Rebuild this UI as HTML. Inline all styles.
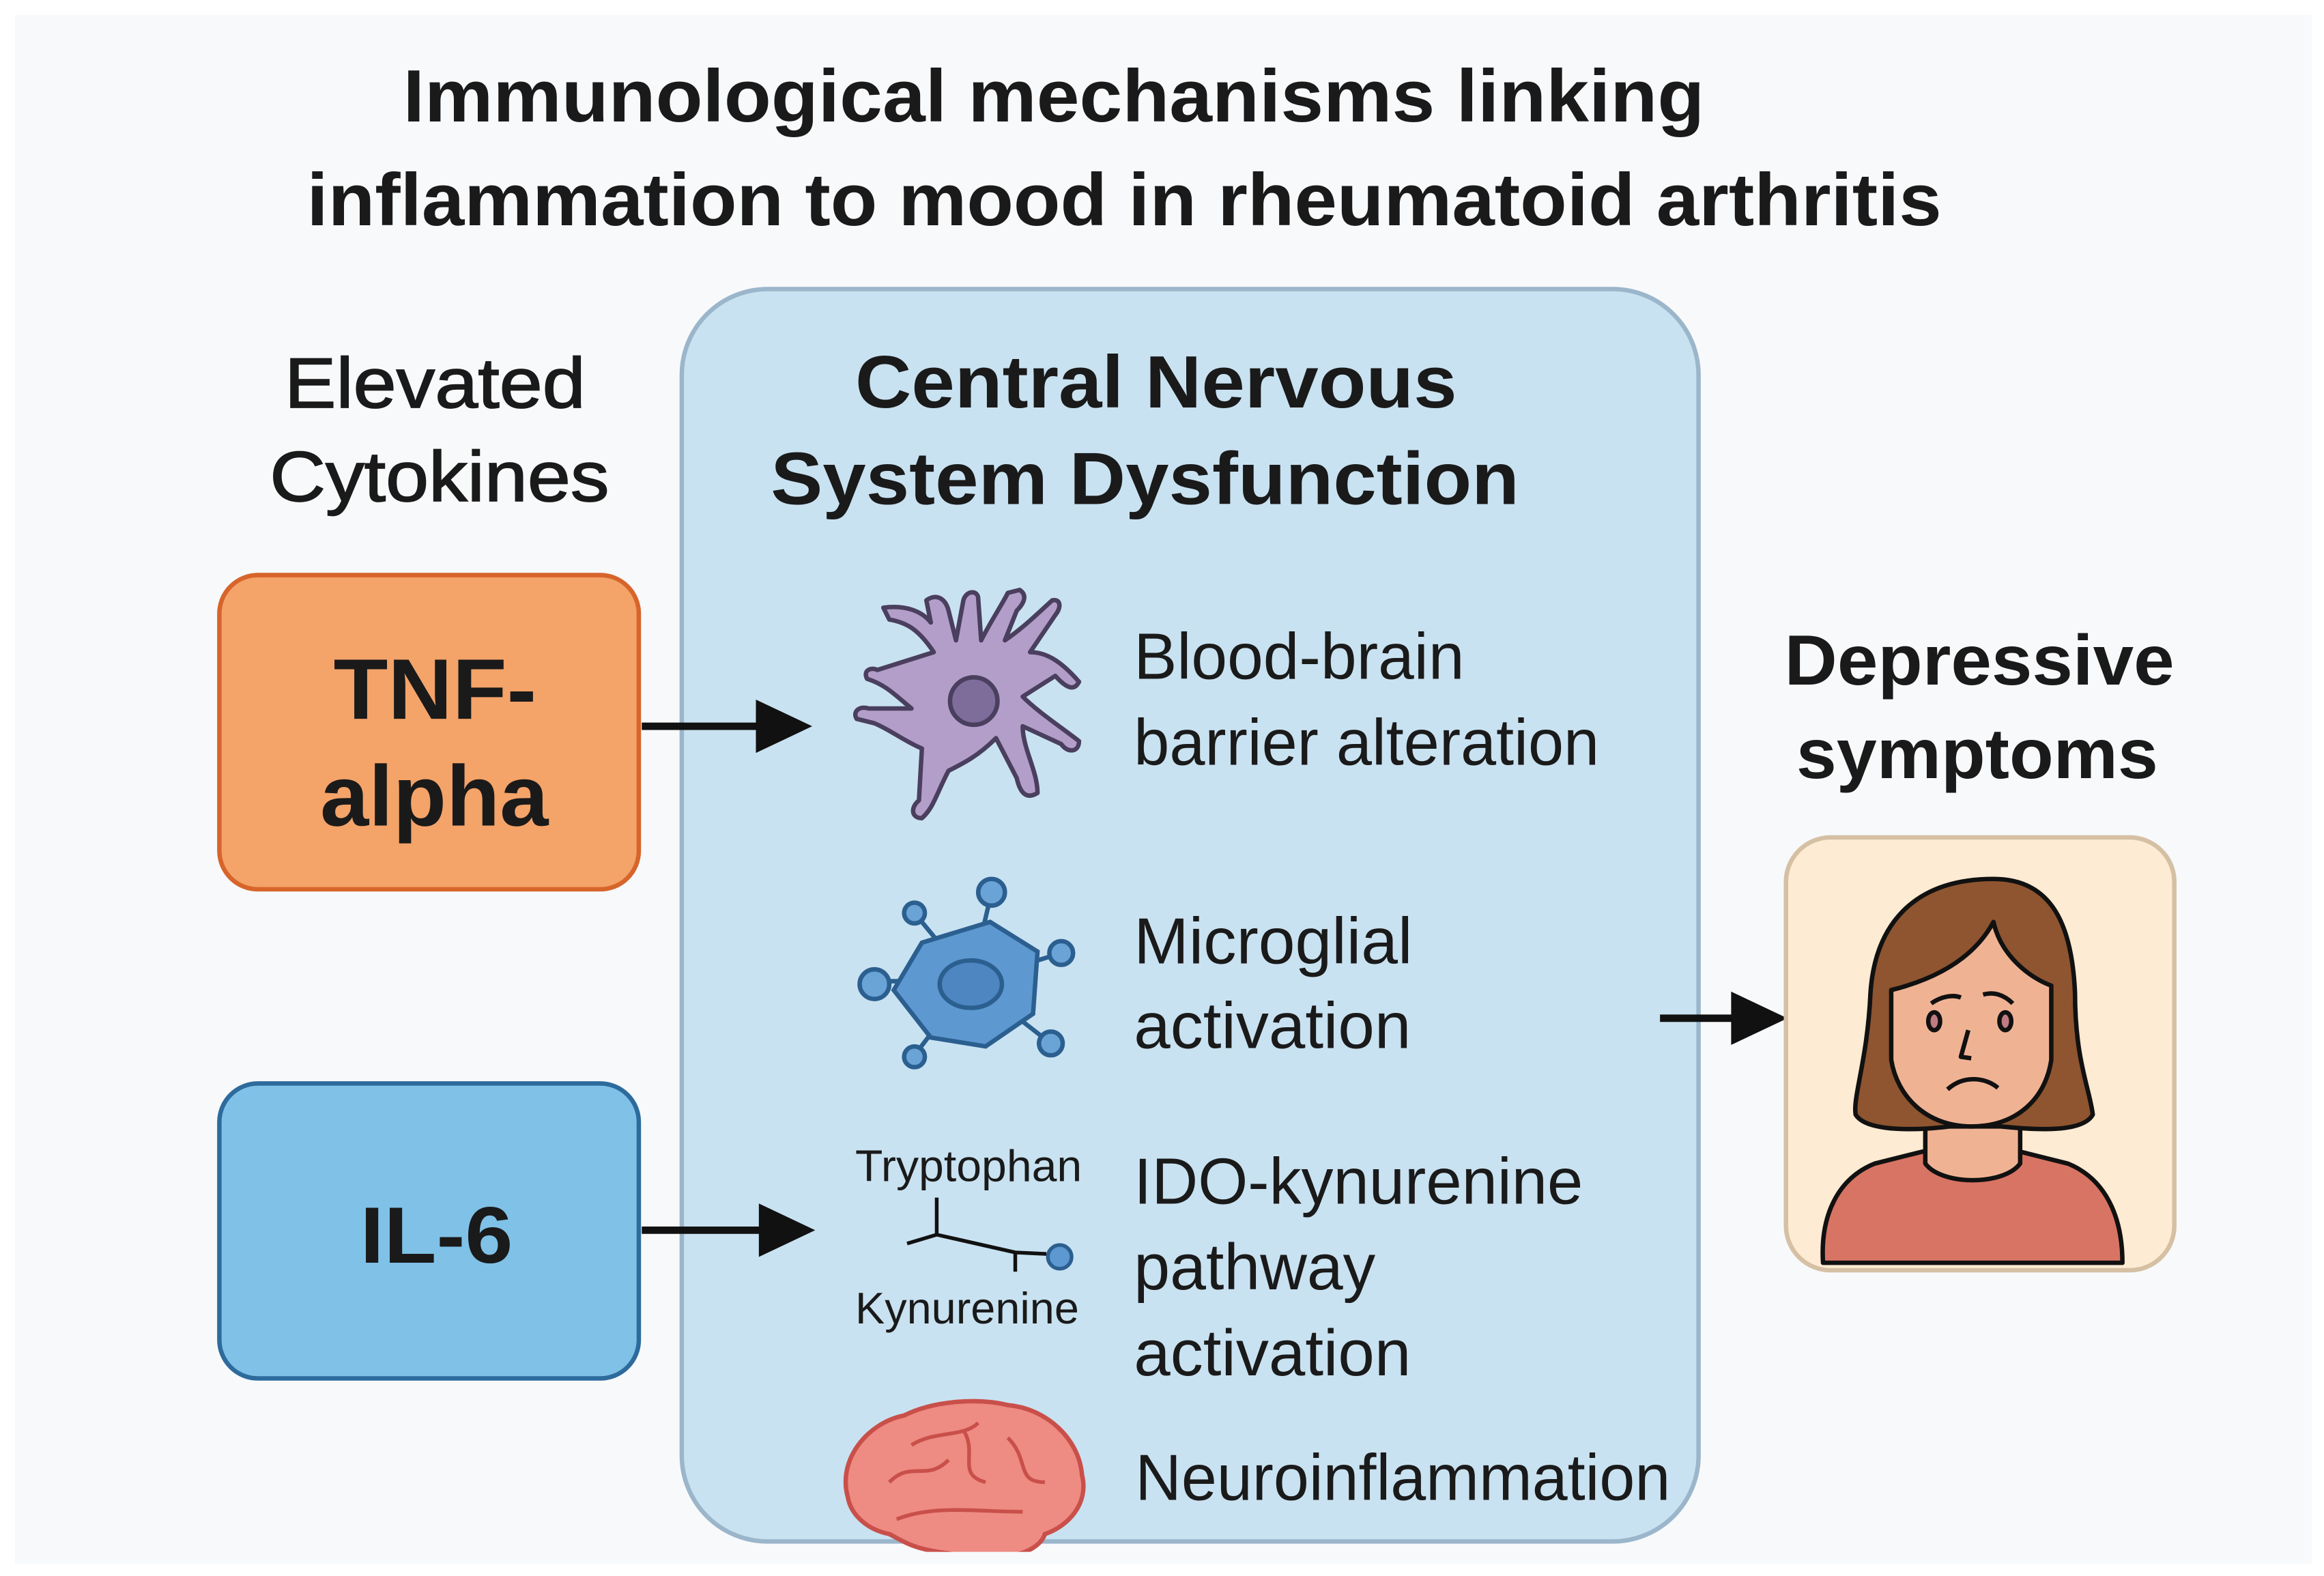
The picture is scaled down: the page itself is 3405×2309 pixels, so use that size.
<!DOCTYPE html>
<html><head><meta charset="utf-8"><style>html,body{margin:0;padding:0;background:#fff}svg{display:block}</style></head>
<body>
<svg width="3405" height="2309" viewBox="0 0 1568 1063.3" preserveAspectRatio="none" xmlns="http://www.w3.org/2000/svg" font-family="'Liberation Sans', sans-serif" fill="#1a1a1a">
<defs><clipPath id="cns"><rect x="460" y="195" width="686" height="852"/></clipPath></defs>
<rect x="0" y="0" width="1568" height="1063.3" fill="#ffffff"/>
<rect x="10" y="10" width="1550" height="1045" fill="#f7f9fb"/>
<!-- title -->
<text x="272" y="82" font-size="50" font-weight="bold" textLength="878" lengthAdjust="spacingAndGlyphs">Immunological mechanisms linking</text>
<text x="207" y="152" font-size="50" font-weight="bold" textLength="1103" lengthAdjust="spacingAndGlyphs">inflammation to mood in rheumatoid arthritis</text>
<!-- CNS box -->
<rect x="460" y="195" width="686" height="845" rx="58" fill="#c9e2f1" stroke="#9bb6cb" stroke-width="3"/>
<text x="577" y="275" font-size="50" font-weight="bold" textLength="406" lengthAdjust="spacingAndGlyphs">Central Nervous</text>
<text x="520" y="340" font-size="50" font-weight="bold" textLength="505" lengthAdjust="spacingAndGlyphs">System Dysfunction</text>
<!-- left -->
<g stroke="#1a1a1a" stroke-width="0.8">
<text x="192" y="275" font-size="48" textLength="203" lengthAdjust="spacingAndGlyphs">Elevated</text>
<text x="182" y="338" font-size="48" textLength="229" lengthAdjust="spacingAndGlyphs">Cytokines</text>
</g>
<rect x="148" y="388" width="283" height="212" rx="26" fill="#f4a369" stroke="#d7652b" stroke-width="3"/>
<text x="225" y="485" font-size="58" font-weight="bold" textLength="137" lengthAdjust="spacingAndGlyphs">TNF-</text>
<text x="216" y="557" font-size="58" font-weight="bold" textLength="154" lengthAdjust="spacingAndGlyphs">alpha</text>
<rect x="148" y="731" width="283" height="199" rx="26" fill="#80c1e7" stroke="#2e6b9d" stroke-width="3"/>
<text x="243" y="852" font-size="54" font-weight="bold" textLength="103" lengthAdjust="spacingAndGlyphs">IL-6</text>
<!-- arrows -->
<g stroke="#111" stroke-width="5"><line x1="433" y1="490" x2="515" y2="490"/><line x1="433" y1="830" x2="517" y2="830"/><line x1="1120" y1="687" x2="1172" y2="687"/></g>
<polygon points="510,472 548,490 510,508" fill="#111"/>
<polygon points="512,812 550,830 512,848" fill="#111"/>
<polygon points="1168,669 1206,687 1168,705" fill="#111"/>
<!-- purple cell -->
<g stroke="#4a3f5e" stroke-width="3" stroke-linejoin="round" fill="#b39ec9">
<path d="M630,440 C620,425 612,420 600,418 L596,410 C610,408 622,412 628,420 L625,405 C632,400 638,404 640,412 L645,432 L650,405 C652,398 660,398 660,404 L662,432 C668,420 676,408 680,400 L688,398 C694,402 690,408 686,412 L678,432 C690,424 700,414 710,405 C716,404 716,410 712,415 L695,440 C705,440 715,445 728,460 C725,466 720,465 712,456 L690,470 C700,480 715,490 728,500 C728,508 720,508 716,502 L690,490 C690,505 700,520 700,535 C692,540 688,534 686,525 L672,498 C660,510 650,515 640,520 C632,535 630,545 622,552 C615,552 614,545 620,540 L622,505 C610,500 600,492 590,488 L578,485 C575,480 580,476 586,478 L615,478 C605,470 598,462 585,458 C582,452 588,450 592,452 Z"/>
</g>
<circle cx="657" cy="473" r="16" fill="#7e6d9b" stroke="#4a3f5e" stroke-width="3"/>
<!-- blue cell -->
<g stroke="#2b5f8f" stroke-width="3" fill="#6aa3d6">
<line x1="655" y1="662" x2="617" y2="616"/><line x1="655" y1="662" x2="669" y2="602"/><line x1="655" y1="662" x2="716" y2="643"/><line x1="655" y1="662" x2="590" y2="662"/><line x1="655" y1="662" x2="617" y2="712"/><line x1="655" y1="662" x2="709" y2="704"/>
<circle cx="617" cy="616" r="7"/><circle cx="669" cy="602" r="9"/><circle cx="716" cy="643" r="8"/><circle cx="590" cy="664" r="10"/><circle cx="617" cy="713" r="7"/><circle cx="709" cy="704" r="8"/>
<path d="M622,636 L668,622 L700,642 L697,684 L665,706 L628,700 L603,668 Z" fill="#5d98d0"/>
<ellipse cx="655" cy="664" rx="21" ry="16" fill="#4d86c0"/>
</g>
<!-- tryptophan -->
<text x="577" y="797" font-size="30" textLength="153" lengthAdjust="spacingAndGlyphs">Tryptophan</text>
<text x="577" y="893" font-size="30" textLength="151" lengthAdjust="spacingAndGlyphs">Kynurenine</text>
<g stroke="#111" stroke-width="2.5" fill="none"><path d="M632,808 V833 M612,839 L632,833 L685,845 M685,845 V858 M685,845 L706,846"/></g>
<circle cx="715" cy="848" r="8" fill="#5d98d0" stroke="#2b5f8f" stroke-width="2.5"/>
<!-- brain -->
<g clip-path="url(#cns)">
<path d="M572,1010 C565,985 585,960 610,955 C630,945 660,943 680,948 C705,950 728,970 730,995 C735,1015 720,1030 705,1035 C700,1050 670,1055 640,1048 C615,1045 610,1040 600,1035 C585,1032 574,1022 572,1010 Z" fill="#ee8b82" stroke="#c9504a" stroke-width="3"/>
<g stroke="#c9504a" stroke-width="2.5" fill="none"><path d="M600,1000 C615,985 625,1000 640,985 M650,965 C660,980 645,995 665,1000 M680,970 C695,985 685,1000 705,1000 M605,1025 C630,1015 660,1020 690,1020 M615,975 C630,965 650,970 660,960"/></g>
</g>
<!-- right texts -->
<g font-size="44">
<text x="765" y="458" textLength="223" lengthAdjust="spacingAndGlyphs">Blood-brain</text>
<text x="765" y="516" textLength="314" lengthAdjust="spacingAndGlyphs">barrier alteration</text>
<text x="765" y="650" textLength="188" lengthAdjust="spacingAndGlyphs">Microglial</text>
<text x="765" y="707" textLength="187" lengthAdjust="spacingAndGlyphs">activation</text>
<text x="765" y="812" textLength="303" lengthAdjust="spacingAndGlyphs">IDO-kynurenine</text>
<text x="765" y="870" textLength="163" lengthAdjust="spacingAndGlyphs">pathway</text>
<text x="765" y="928" textLength="187" lengthAdjust="spacingAndGlyphs">activation</text>
<text x="766" y="1012" textLength="361" lengthAdjust="spacingAndGlyphs">Neuroinflammation</text>
</g>
<text x="1204" y="462" font-size="48" font-weight="bold" textLength="263" lengthAdjust="spacingAndGlyphs">Depressive</text>
<text x="1212" y="525" font-size="48" font-weight="bold" textLength="244" lengthAdjust="spacingAndGlyphs">symptoms</text>
<!-- face box -->
<rect x="1205" y="565" width="262" height="292" rx="30" fill="#fdebd3" stroke="#d6c0a4" stroke-width="3"/>
<g stroke="#111" stroke-width="3" stroke-linejoin="round">
<path d="M1230,852 C1228,820 1240,795 1265,785 L1297,777 L1363,777 L1395,785 C1420,795 1432,820 1432,852 Z" fill="#d87464"/>
<path d="M1299,752 L1299,785 C1310,800 1352,800 1363,785 L1363,752 Z" fill="#efb394"/>
<path d="M1345,593 C1290,593 1265,625 1262,670 C1260,715 1250,740 1252,752 C1260,765 1300,762 1315,760 L1350,760 C1370,762 1405,765 1412,752 C1410,735 1400,715 1400,670 C1398,625 1385,593 1345,593 Z" fill="#8e5530"/>
<path d="M1276,668 C1300,662 1330,650 1345,622 C1350,645 1370,660 1384,665 L1384,715 C1380,742 1360,760 1330,760 C1300,760 1280,740 1276,715 Z" fill="#efb394"/>
<g fill="none"><path d="M1303,677 C1310,672 1318,671 1323,673 M1338,671 C1345,669 1352,671 1358,677 M1328,695 L1323,713 L1330,714 M1314,735 C1325,725 1340,727 1348,734"/></g>
<ellipse cx="1305" cy="689" rx="4" ry="6" fill="#c07a82"/><ellipse cx="1353" cy="689" rx="4" ry="6" fill="#c07a82"/>
</g>
</svg>
</body></html>
